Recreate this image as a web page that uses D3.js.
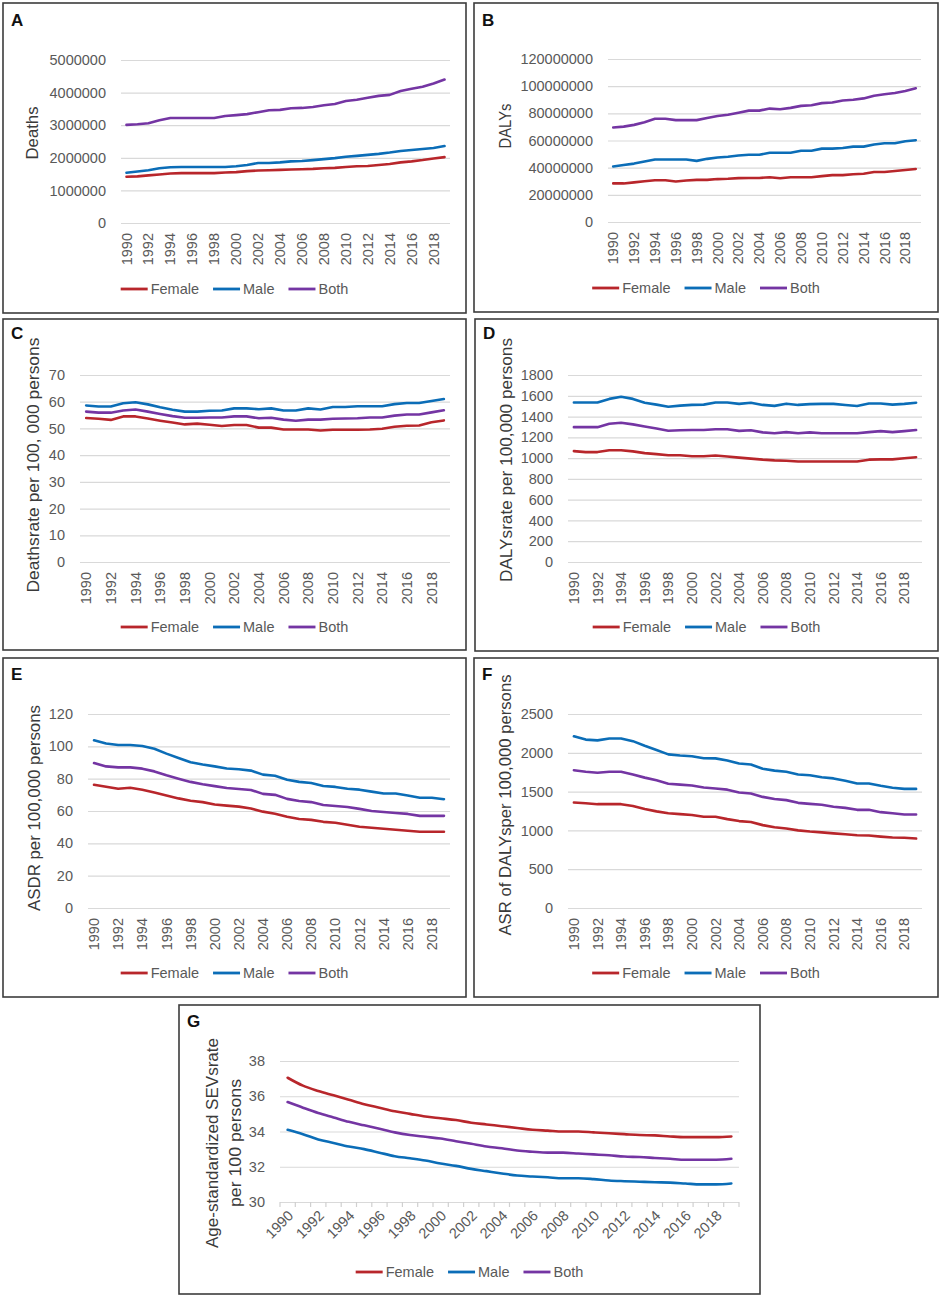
<!DOCTYPE html>
<html><head><meta charset="utf-8">
<script src="https://cdn.jsdelivr.net/npm/d3@7"></script>
<style>body{margin:0;background:#fff}svg{display:block}</style>
</head><body><svg id="c" width="942" height="1299"></svg>
<script>
const years = [1990,1991,1992,1993,1994,1995,1996,1997,1998,1999,2000,2001,2002,2003,2004,2005,2006,2007,2008,2009,2010,2011,2012,2013,2014,2015,2016,2017,2018,2019];
const labelYears = [1990,1992,1994,1996,1998,2000,2002,2004,2006,2008,2010,2012,2014,2016,2018];
const seriesNames = ["Female","Male","Both"];
const seriesColors = ["#B8262B","#0B6DB7","#7435A3"];

// A: Deaths
const deathsFemale = [1420000,1430000,1460000,1490000,1520000,1530000,1530000,1530000,1530000,1550000,1560000,1590000,1610000,1620000,1630000,1640000,1650000,1660000,1680000,1690000,1720000,1740000,1750000,1780000,1810000,1860000,1890000,1930000,1980000,2020000];
const deathsMale = [1540000,1580000,1620000,1680000,1710000,1720000,1720000,1720000,1720000,1720000,1740000,1780000,1840000,1840000,1860000,1890000,1900000,1930000,1960000,1990000,2030000,2060000,2090000,2120000,2160000,2210000,2240000,2270000,2300000,2360000];
const deathsBoth = [3010000,3030000,3060000,3150000,3220000,3220000,3220000,3220000,3220000,3280000,3310000,3340000,3400000,3460000,3470000,3520000,3530000,3560000,3610000,3650000,3740000,3780000,3840000,3900000,3930000,4050000,4120000,4180000,4280000,4400000];
const deathsTicks = [0,1000000,2000000,3000000,4000000,5000000];

// B: DALYs
const dalysFemale = [28400000,28400000,29200000,30000000,30700000,30700000,29800000,30600000,31000000,31000000,31600000,31800000,32300000,32400000,32400000,33000000,32200000,33000000,33000000,33000000,33800000,34500000,34500000,35200000,35500000,36800000,36800000,37500000,38300000,39000000];
const dalysMale = [40900000,42000000,43000000,44500000,46000000,46000000,46000000,46000000,45000000,46500000,47500000,48000000,49000000,49500000,49500000,51000000,51000000,51000000,52500000,52500000,54000000,54000000,54500000,55500000,55500000,57000000,58000000,58000000,59500000,60200000];
const dalysBoth = [69600000,70200000,71500000,73500000,76000000,76000000,75000000,75000000,75000000,76500000,78000000,79000000,80500000,82000000,82000000,83500000,83000000,84000000,85500000,86000000,87500000,88000000,89500000,90000000,91000000,93000000,94000000,95000000,96500000,98500000];
const dalysTicks = [0,20000000,40000000,60000000,80000000,100000000,120000000];

// C: Deaths rate
const deathRateFemale = [53.9,53.6,53.2,54.5,54.5,53.7,52.9,52.2,51.5,51.8,51.4,50.9,51.3,51.3,50.3,50.3,49.6,49.6,49.6,49.2,49.5,49.5,49.5,49.6,49.9,50.6,51.0,51.1,52.3,53.0];
const deathRateMale = [58.6,58.2,58.2,59.4,59.8,59.0,57.9,57.0,56.3,56.3,56.6,56.7,57.5,57.5,57.2,57.5,56.7,56.7,57.5,57.1,58.0,58.0,58.3,58.3,58.3,59.1,59.5,59.5,60.3,61.0];
const deathRateBoth = [56.3,55.9,55.9,56.7,57.1,56.3,55.4,54.6,54.0,54.0,54.1,54.1,54.5,54.5,53.8,54.0,53.3,52.9,53.3,53.3,53.6,53.7,53.8,54.1,54.1,54.8,55.2,55.2,56.0,56.8];
const deathRateTicks = [0,10,20,30,40,50,60,70];

// D: DALYs rate
const dalyRateFemale = [1067,1058,1058,1075,1075,1065,1048,1038,1028,1028,1018,1018,1025,1015,1005,995,985,978,975,968,968,968,968,968,968,985,988,988,998,1008];
const dalyRateMale = [1536,1536,1536,1570,1590,1570,1533,1515,1495,1505,1512,1515,1535,1535,1522,1533,1512,1503,1524,1512,1520,1522,1522,1512,1502,1525,1525,1515,1522,1533];
const dalyRateBoth = [1298,1298,1298,1330,1340,1325,1305,1285,1263,1268,1270,1270,1278,1278,1262,1268,1248,1240,1250,1240,1248,1240,1240,1240,1240,1250,1260,1250,1260,1270];
const dalyRateTicks = [0,200,400,600,800,1000,1200,1400,1600,1800];

// E: ASDR
const asdrFemale = [76.2,75.0,73.8,74.4,73.2,71.5,69.6,67.8,66.3,65.5,64.0,63.3,62.7,61.5,59.6,58.3,56.5,55.1,54.5,53.3,52.7,51.5,50.3,49.6,49.0,48.4,47.8,47.2,47.2,47.2];
const asdrMale = [103.7,101.8,100.8,100.8,100.2,98.5,95.5,92.8,90.2,88.8,87.6,86.3,85.8,85.0,82.5,81.8,79.3,78.0,77.3,75.5,74.9,73.8,73.2,72.0,70.8,70.8,69.6,68.2,68.2,67.3];
const asdrBoth = [89.7,87.6,87.0,87.0,86.2,84.5,82.1,80.0,78.0,76.6,75.4,74.2,73.6,73.0,70.6,70.0,67.5,66.2,65.5,63.7,63.1,62.5,61.3,60.0,59.4,58.8,58.2,57.0,57.0,57.0];
const asdrTicks = [0,20,40,60,80,100,120];

// F: ASR of DALYs
const asrDalyFemale = [1360,1350,1338,1338,1338,1315,1275,1245,1222,1210,1198,1175,1175,1145,1120,1108,1068,1040,1025,1000,985,975,962,950,938,935,920,908,905,895];
const asrDalyMale = [2213,2170,2160,2185,2185,2150,2090,2035,1980,1965,1955,1930,1928,1900,1862,1850,1795,1770,1755,1720,1710,1685,1670,1640,1605,1605,1575,1550,1535,1535];
const asrDalyBoth = [1775,1755,1742,1755,1755,1720,1680,1645,1602,1590,1578,1552,1540,1525,1488,1475,1432,1405,1390,1355,1342,1330,1305,1290,1265,1265,1235,1220,1205,1205];
const asrDalyTicks = [0,500,1000,1500,2000,2500];

// G: Age-standardized SEVs rate
const sevFemale = [37.05,36.6,36.3,36.05,35.8,35.55,35.35,35.15,35.0,34.85,34.75,34.65,34.5,34.4,34.3,34.2,34.1,34.05,34.0,34.0,33.95,33.9,33.85,33.8,33.78,33.72,33.68,33.68,33.68,33.72];
const sevMale = [34.1,33.85,33.55,33.35,33.15,33.0,32.8,32.6,32.48,32.35,32.18,32.05,31.88,31.75,31.62,31.5,31.45,31.4,31.35,31.35,31.3,31.22,31.18,31.15,31.12,31.1,31.05,31.0,31.0,31.05];
const sevBoth = [35.67,35.35,35.05,34.8,34.55,34.35,34.15,33.95,33.8,33.7,33.6,33.45,33.3,33.15,33.05,32.92,32.85,32.8,32.8,32.75,32.7,32.65,32.58,32.55,32.5,32.45,32.4,32.4,32.4,32.45];
const sevTicks = [30,32,34,36,38];

const FONT = "'Liberation Sans', Arial, sans-serif";
const svg = d3.select("#c");

const panels = [
  {letter:"A", box:[3,3,463,310], plot:[121,450,60,223], domain:[0,5000000], ticks:deathsTicks,
   series:[deathsFemale,deathsMale,deathsBoth], titles:["Deaths"], tx:[32], ty:133, tlen:[53], legendY:289, lt:23},
  {letter:"B", box:[474,3,464,309], plot:[608,921,59,222], domain:[0,120000000], ticks:dalysTicks,
   series:[dalysFemale,dalysMale,dalysBoth], titles:["DALYs"], tx:[505], ty:126, tlen:[45], legendY:288, lt:23},
  {letter:"C", box:[3,319,463,331], plot:[80,450,375,562], domain:[0,70], ticks:deathRateTicks,
   series:[deathRateFemale,deathRateMale,deathRateBoth], titles:["Deathsrate per 100, 000 persons"], tx:[33], ty:465, tlen:[255], legendY:627, lt:20},
  {letter:"D", box:[475,319,463,332], plot:[568,922,375,562], domain:[0,1800], ticks:dalyRateTicks,
   series:[dalyRateFemale,dalyRateMale,dalyRateBoth], titles:["DALYsrate per 100,000 persons"], tx:[506], ty:460, tlen:[244], legendY:627, lt:20},
  {letter:"E", box:[3,658,463,339], plot:[88,450,714,908], domain:[0,120], ticks:asdrTicks,
   series:[asdrFemale,asdrMale,asdrBoth], titles:["ASDR per 100,000 persons"], tx:[34], ty:808, tlen:[206], legendY:973, lt:22},
  {letter:"F", box:[474,658,464,339], plot:[568,922,714,908], domain:[0,2500], ticks:asrDalyTicks,
   series:[asrDalyFemale,asrDalyMale,asrDalyBoth], titles:["ASR of DALYsper 100,000 persons"], tx:[505], ty:805, tlen:[261], legendY:973, lt:22},
  {letter:"G", box:[179,1005,581,289], plot:[280,739,1061,1202], domain:[30,38], ticks:sevTicks,
   series:[sevFemale,sevMale,sevBoth], titles:["Age-standardized SEVsrate","per 100 persons"], tx:[212,235], ty:1143, tlen:[210,128], legendY:1272, lt:22, slanted:true, smooth:true}
];

function drawPanel(p){
  const g = svg.append("g");
  const [bx,by,bw,bh] = p.box;
  const [l,r,t,b] = p.plot;
  g.append("rect").attr("x",bx).attr("y",by).attr("width",bw).attr("height",bh)
    .attr("fill","none").attr("stroke","#3c3c3c").attr("stroke-width",1.6);
  g.append("text").attr("x",bx+8).attr("y",by+p.lt).text(p.letter)
    .style("font-family",FONT).style("font-weight","bold").style("font-size","17px").attr("fill","#111");

  const x = d3.scaleBand().domain(years).range([l,r]);
  const y = d3.scaleLinear().domain(p.domain).range([b,t]);
  const cx = yr => x(yr) + x.bandwidth()/2;

  // y axis with gridlines
  const ya = g.append("g").attr("transform",`translate(${l},0)`)
    .call(d3.axisLeft(y).tickValues(p.ticks).tickSize(-(r-l)).tickPadding(15).tickFormat(d3.format("d")));
  ya.select(".domain").remove();
  ya.selectAll("line").attr("stroke","#d9d9d9").attr("stroke-width",1.2);
  ya.selectAll("text").attr("fill","#595959").style("font-family",FONT).style("font-size","14.5px");

  // x axis
  const xa = g.append("g").attr("transform",`translate(0,${b})`)
    .call(d3.axisBottom(x).tickValues(labelYears).tickSize(0));
  xa.select(".domain").remove();
  const xt = xa.selectAll("text").attr("fill","#595959").style("font-family",FONT).style("font-size","14.5px")
    .style("text-anchor","end").attr("y",0).attr("x",0).attr("dy","0.35em");
  if (p.slanted) {
    xt.attr("transform","translate(3,11) rotate(-45)");
    // axis line & category tick marks
    const bounds = years.map(yr => x(yr)).concat([r]);
    g.append("g").selectAll("line").data(bounds).join("line")
      .attr("x1",d=>d).attr("x2",d=>d).attr("y1",b).attr("y2",b+5)
      .attr("stroke","#d0d0d0").attr("stroke-width",1.2);
  } else {
    xt.attr("transform","translate(0,10) rotate(-90)");
  }

  // lines
  p.series.forEach((vals,i)=>{
    const line = d3.line().x((v,j)=>cx(years[j])).y(v=>y(v))
      .curve(p.smooth ? d3.curveMonotoneX : d3.curveLinear);
    g.append("path").datum(vals).attr("d",line).attr("fill","none")
      .attr("stroke",seriesColors[i]).attr("stroke-width",2.6).attr("stroke-linejoin","round").attr("stroke-linecap","round");
  });

  // y title
  p.titles.forEach((tt,i)=>{
    g.append("text").attr("transform",`translate(${p.tx[i]},${p.ty}) rotate(-90)`)
      .attr("text-anchor","middle").attr("dy","0.35em")
      .attr("textLength",p.tlen[i]).attr("lengthAdjust","spacingAndGlyphs")
      .style("font-family",FONT).style("font-size","17px").attr("fill","#3a3a3a").text(tt);
  });

  // legend centered in the panel box
  const lg = g.append("g");
  let cur = 0;
  const items = seriesNames.map((nm,i)=>{
    const it = lg.append("g");
    it.append("line").attr("x1",0).attr("x2",27).attr("y1",0).attr("y2",0)
      .attr("stroke",seriesColors[i]).attr("stroke-width",2.8);
    const tx = it.append("text").attr("x",30).attr("y",0).attr("dy","0.35em")
      .style("font-family",FONT).style("font-size","14.5px").attr("fill","#595959").text(nm);
    const w = 30 + tx.node().getComputedTextLength();
    it.attr("transform",`translate(${cur},${p.legendY})`);
    cur += w + 14;
    return it;
  });
  const total = cur - 14;
  lg.attr("transform",`translate(${bx + bw/2 - total/2},0)`);
}

panels.forEach(drawPanel);
</script>
</body></html>
